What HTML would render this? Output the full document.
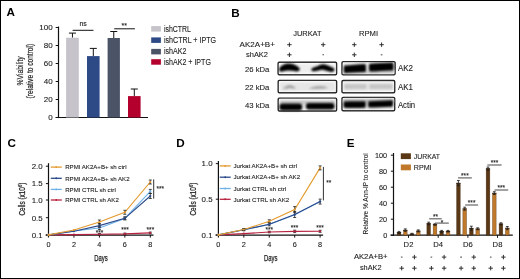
<!DOCTYPE html>
<html><head><meta charset="utf-8"><style>html,body{margin:0;padding:0;background:#fff;width:520px;height:279px;overflow:hidden}</style></head>
<body>
<svg width="520" height="279" viewBox="0 0 520 279" style="display:block;will-change:transform" font-family='"Liberation Sans", sans-serif'>
<defs><filter id="bl" x="-20%" y="-80%" width="140%" height="260%" color-interpolation-filters="sRGB"><feGaussianBlur stdDeviation="0.85"/></filter><filter id="bl2" x="-20%" y="-80%" width="140%" height="260%" color-interpolation-filters="sRGB"><feGaussianBlur stdDeviation="1.1"/></filter><filter id="bl3" x="-20%" y="-80%" width="140%" height="260%" color-interpolation-filters="sRGB"><feGaussianBlur stdDeviation="1.0"/></filter><filter id="bs" x="-10%" y="-30%" width="120%" height="160%" color-interpolation-filters="sRGB"><feGaussianBlur stdDeviation="0.9"/></filter></defs>
<rect width="520" height="279" fill="#fff"/>
<rect x="0.5" y="0.5" width="519" height="278" fill="none" stroke="#000" stroke-width="1"/>
<text x="6.6" y="16.3" font-size="11.7" text-anchor="start" font-weight="bold" fill="#000" >A</text>
<text x="231.3" y="16.9" font-size="11.7" text-anchor="start" font-weight="bold" fill="#000" >B</text>
<text x="7.4" y="147" font-size="11.7" text-anchor="start" font-weight="bold" fill="#000" >C</text>
<text x="176.2" y="147" font-size="11.7" text-anchor="start" font-weight="bold" fill="#000" >D</text>
<text x="346.7" y="147" font-size="11.7" text-anchor="start" font-weight="bold" fill="#000" >E</text>
<line x1="58.5" y1="26.5" x2="58.5" y2="118.1" stroke="#111" stroke-width="1.2"/>
<line x1="55.7" y1="117.5" x2="148" y2="117.5" stroke="#111" stroke-width="1.2"/>
<line x1="55.7" y1="117.5" x2="58.5" y2="117.5" stroke="#111" stroke-width="1"/>
<text x="52.6" y="120.35" font-size="8" text-anchor="end" font-weight="normal" fill="#222" stroke="#222" stroke-width="0.1" >0</text>
<line x1="55.7" y1="99.5" x2="58.5" y2="99.5" stroke="#111" stroke-width="1"/>
<text x="52.6" y="102.35" font-size="8" text-anchor="end" font-weight="normal" fill="#222" stroke="#222" stroke-width="0.1" >20</text>
<line x1="55.7" y1="81.5" x2="58.5" y2="81.5" stroke="#111" stroke-width="1"/>
<text x="52.6" y="84.35" font-size="8" text-anchor="end" font-weight="normal" fill="#222" stroke="#222" stroke-width="0.1" >40</text>
<line x1="55.7" y1="63.5" x2="58.5" y2="63.5" stroke="#111" stroke-width="1"/>
<text x="52.6" y="66.35" font-size="8" text-anchor="end" font-weight="normal" fill="#222" stroke="#222" stroke-width="0.1" >60</text>
<line x1="55.7" y1="45.5" x2="58.5" y2="45.5" stroke="#111" stroke-width="1"/>
<text x="52.6" y="48.35" font-size="8" text-anchor="end" font-weight="normal" fill="#222" stroke="#222" stroke-width="0.1" >80</text>
<line x1="55.7" y1="27.5" x2="58.5" y2="27.5" stroke="#111" stroke-width="1"/>
<text x="52.6" y="30.35" font-size="8" text-anchor="end" font-weight="normal" fill="#222" stroke="#222" stroke-width="0.1" >100</text>
<line x1="72.44999999999999" y1="33.1" x2="72.44999999999999" y2="37.7" stroke="#111" stroke-width="1"/>
<line x1="68.94999999999999" y1="33.1" x2="75.94999999999999" y2="33.1" stroke="#111" stroke-width="1"/>
<rect x="66.1" y="37.7" width="12.700000000000003" height="79.8" fill="#c6c4ca" />
<line x1="93.3" y1="48.4" x2="93.3" y2="56.1" stroke="#111" stroke-width="1"/>
<line x1="89.8" y1="48.4" x2="96.8" y2="48.4" stroke="#111" stroke-width="1"/>
<rect x="87.0" y="56.1" width="12.599999999999994" height="61.4" fill="#2d4a86" />
<line x1="113.75" y1="31.5" x2="113.75" y2="38.0" stroke="#111" stroke-width="1"/>
<line x1="110.25" y1="31.5" x2="117.25" y2="31.5" stroke="#111" stroke-width="1"/>
<rect x="107.6" y="38.0" width="12.300000000000011" height="79.5" fill="#4b5366" />
<line x1="134.3" y1="89.0" x2="134.3" y2="96.1" stroke="#111" stroke-width="1"/>
<line x1="130.8" y1="89.0" x2="137.8" y2="89.0" stroke="#111" stroke-width="1"/>
<rect x="128.0" y="96.1" width="12.599999999999994" height="21.400000000000006" fill="#b3002c" />
<line x1="72.6" y1="30.3" x2="93.5" y2="30.3" stroke="#111" stroke-width="1"/>
<text x="83.1" y="26.0" font-size="7" text-anchor="middle" font-weight="normal" fill="#222" stroke="#222" stroke-width="0.1" >ns</text>
<line x1="114.2" y1="28.8" x2="134.9" y2="28.8" stroke="#111" stroke-width="1"/>
<text x="124.3" y="28.1" font-size="7" text-anchor="middle" font-weight="normal" fill="#222" stroke="#222" stroke-width="0.1" >**</text>
<g transform="translate(23.1,70.9) rotate(-90)"><text x="0" y="0" font-size="9" text-anchor="middle" fill="#222" stroke="#222" stroke-width="0.2" textLength="29.2" lengthAdjust="spacingAndGlyphs">%Viability</text></g>
<g transform="translate(33.0,71.1) rotate(-90)"><text x="0" y="0" font-size="9" text-anchor="middle" fill="#222" stroke="#222" stroke-width="0.2" textLength="54.6" lengthAdjust="spacingAndGlyphs">(relative to control)</text></g>
<rect x="151.2" y="26.1" width="9.7" height="5.5" fill="#c6c4ca" />
<text x="163.9" y="31.6" font-size="8.4" text-anchor="start" font-weight="normal" fill="#222" stroke="#222" stroke-width="0.1" textLength="27" lengthAdjust="spacingAndGlyphs" >ishCTRL</text>
<rect x="151.2" y="37.4" width="9.7" height="5.5" fill="#2d4a86" />
<text x="163.9" y="42.9" font-size="8.4" text-anchor="start" font-weight="normal" fill="#222" stroke="#222" stroke-width="0.1" textLength="52.2" lengthAdjust="spacingAndGlyphs" >ishCTRL + IPTG</text>
<rect x="151.2" y="48.9" width="9.7" height="5.5" fill="#4b5366" />
<text x="163.9" y="54.4" font-size="8.4" text-anchor="start" font-weight="normal" fill="#222" stroke="#222" stroke-width="0.1" textLength="22.5" lengthAdjust="spacingAndGlyphs" >ishAK2</text>
<rect x="151.2" y="59.2" width="9.7" height="5.5" fill="#b3002c" />
<text x="163.9" y="64.7" font-size="8.4" text-anchor="start" font-weight="normal" fill="#222" stroke="#222" stroke-width="0.1" textLength="47" lengthAdjust="spacingAndGlyphs" >ishAK2 + IPTG</text>
<text x="307.4" y="35.7" font-size="7.8" text-anchor="middle" font-weight="normal" fill="#222" stroke="#222" stroke-width="0.1" textLength="28.4" lengthAdjust="spacingAndGlyphs" >JURKAT</text>
<text x="368.5" y="35.5" font-size="7.8" text-anchor="middle" font-weight="normal" fill="#222" stroke="#222" stroke-width="0.1" textLength="19.1" lengthAdjust="spacingAndGlyphs" >RPMI</text>
<text x="239.6" y="47.4" font-size="7.3" text-anchor="start" font-weight="normal" fill="#222" stroke="#222" stroke-width="0.1" textLength="35.3" lengthAdjust="spacingAndGlyphs" >AK2A+B+</text>
<text x="246" y="57.1" font-size="7.3" text-anchor="start" font-weight="normal" fill="#222" stroke="#222" stroke-width="0.1" textLength="22" lengthAdjust="spacingAndGlyphs" >shAK2</text>
<path d="M287.20,44.70H291.60M289.40,42.50V46.90" stroke="#303030" stroke-width="1.0" fill="none"/>
<path d="M321.00,44.70H325.40M323.20,42.50V46.90" stroke="#303030" stroke-width="1.0" fill="none"/>
<path d="M352.10,44.70H356.50M354.30,42.50V46.90" stroke="#303030" stroke-width="1.0" fill="none"/>
<path d="M379.40,44.70H383.80M381.60,42.50V46.90" stroke="#303030" stroke-width="1.0" fill="none"/>
<path d="M287.20,54.80H291.60M289.40,52.60V57.00" stroke="#303030" stroke-width="1.0" fill="none"/>
<path d="M322.40,54.80H324.00" stroke="#555" stroke-width="1.1" fill="none"/>
<path d="M352.10,54.80H356.50M354.30,52.60V57.00" stroke="#303030" stroke-width="1.0" fill="none"/>
<path d="M380.80,54.80H382.40" stroke="#555" stroke-width="1.1" fill="none"/>
<text x="245" y="71.9" font-size="8.0" text-anchor="start" font-weight="normal" fill="#222" stroke="#222" stroke-width="0.1" textLength="24.4" lengthAdjust="spacingAndGlyphs" >26 kDa</text>
<text x="245" y="89.5" font-size="8.0" text-anchor="start" font-weight="normal" fill="#222" stroke="#222" stroke-width="0.1" textLength="24.4" lengthAdjust="spacingAndGlyphs" >22 kDa</text>
<text x="245" y="107.5" font-size="8.0" text-anchor="start" font-weight="normal" fill="#222" stroke="#222" stroke-width="0.1" textLength="24.4" lengthAdjust="spacingAndGlyphs" >43 kDa</text>
<text x="397.9" y="71.2" font-size="8.4" text-anchor="start" font-weight="normal" fill="#222" stroke="#222" stroke-width="0.1" textLength="15.2" lengthAdjust="spacingAndGlyphs" >AK2</text>
<text x="397.9" y="89.5" font-size="8.4" text-anchor="start" font-weight="normal" fill="#222" stroke="#222" stroke-width="0.1" textLength="15.0" lengthAdjust="spacingAndGlyphs" >AK1</text>
<text x="397.9" y="107.6" font-size="8.4" text-anchor="start" font-weight="normal" fill="#222" stroke="#222" stroke-width="0.1" textLength="17.3" lengthAdjust="spacingAndGlyphs" >Actin</text>
<rect x="278.09999999999997" y="62.300000000000004" width="58.500000000000036" height="12.499999999999998" rx="1.2" fill="#fff" stroke="#1c1c1c" stroke-width="1.4"/>
<rect x="279.59999999999997" y="63.800000000000004" width="55.500000000000036" height="9.499999999999998" fill="#eeeeee" filter="url(#bs)"/>
<path d="M279.6,67.8 C281.5,65.3 284.8,63.6 288.5,63.5 C292.8,63.5 297,65.6 299.4,68.1 C300.3,69.5 299.4,71.4 297,71.4 C294,71.3 291,70.6 288,70.6 C285,70.6 283,71.7 281,71.7 C279,71.6 278.7,69.2 279.6,67.8 Z" fill="#000" filter="url(#bl)"/><path d="M311.8,68.3 C314.5,67 317,66.6 318.8,65.5 C320.6,64.4 322.8,64 325,64.4 C328,65.2 331.5,66.8 333.8,68.2 C335.2,69.4 334.3,71.9 331.8,71.9 C328.5,71.6 325.5,70.1 322.5,69.7 C320.3,69.5 318.3,70.7 316,71.1 C313.8,71.4 311.5,71.2 311.3,69.9 Z" fill="#000" filter="url(#bl)"/>
<rect x="342.0" y="61.6" width="53.1" height="13.200000000000001" rx="1.2" fill="#fff" stroke="#1c1c1c" stroke-width="1.4"/>
<rect x="343.5" y="63.1" width="50.1" height="10.200000000000001" fill="#e8e8e8" filter="url(#bs)"/>
<rect x="343" y="70.5" width="51" height="3.2" fill="#cfcfcf" filter="url(#bl2)"/><path d="M344.2,65.6 C350,65 358,64.4 365.4,64.0 C366.2,66.3 366.2,70 365.6,72.1 C358,72.4 350,72.7 344.4,72.9 C343.5,70.8 343.5,67.5 344.2,65.6 Z" fill="#000" filter="url(#bl3)"/><path d="M369.4,63.8 C377,63.2 386,62.6 393,62.5 C393.9,64.8 393.9,68.5 393.3,70.4 C386,70.8 377,71.2 369.5,71.6 C368.7,69.6 368.7,65.8 369.4,63.8 Z" fill="#000" filter="url(#bl3)"/>
<rect x="278.2" y="80.4" width="58.40000000000001" height="12.300000000000002" rx="1.2" fill="#fff" stroke="#1c1c1c" stroke-width="1.4"/>
<rect x="279.7" y="81.9" width="55.40000000000001" height="9.300000000000002" fill="#e6e6e6" filter="url(#bs)"/>
<path d="M283,88.7 C285,86.6 287.8,85.2 290,85.3 C292.2,85.4 294.5,86.8 296,88.5 C293.8,88.9 291.5,87.9 289.5,87.9 C287.5,87.9 285.3,89.1 283,88.7 Z" fill="#9c9c9c" filter="url(#bl)"/><path d="M308.5,88.4 C313,86.6 318,86.1 322,86.3 C324.8,86.5 327,87.2 328,88.1 C323,88.8 316,89 308.5,88.4 Z" fill="#9c9c9c" filter="url(#bl)"/>
<rect x="342.0" y="80.5" width="52.69999999999997" height="12.300000000000002" rx="1.2" fill="#fff" stroke="#1c1c1c" stroke-width="1.4"/>
<rect x="343.5" y="82.0" width="49.69999999999997" height="9.300000000000002" fill="#ebebeb" filter="url(#bs)"/>
<rect x="344.3" y="84" width="22.3" height="5.2" fill="#c6c6c6" filter="url(#bl2)"/><rect x="369.3" y="84" width="23.4" height="5.2" fill="#c6c6c6" filter="url(#bl2)"/>
<rect x="278.2" y="98.10000000000001" width="58.40000000000001" height="12.899999999999997" rx="1.2" fill="#fff" stroke="#1c1c1c" stroke-width="1.4"/>
<rect x="279.7" y="99.60000000000001" width="55.40000000000001" height="9.899999999999997" fill="#eaeaea" filter="url(#bs)"/>
<rect x="280" y="100.8" width="55" height="3.6" fill="#c4c4c4" filter="url(#bl2)"/><rect x="279.4" y="103.6" width="22.8" height="7.0" rx="3" fill="#000" filter="url(#bl)"/><rect x="305.9" y="102.9" width="28.6" height="6.7" rx="3" fill="#000" filter="url(#bl)"/>
<rect x="342.0" y="97.4" width="52.69999999999997" height="13.399999999999997" rx="1.2" fill="#fff" stroke="#1c1c1c" stroke-width="1.4"/>
<rect x="343.5" y="98.9" width="49.69999999999997" height="10.399999999999997" fill="#e2e2e2" filter="url(#bs)"/>
<rect x="343" y="99.3" width="51" height="3.2" fill="#bdbdbd" filter="url(#bl2)"/><path d="M344,101.5 C351,101.1 358,101.1 365.3,101.3 C366,103.3 366,105.7 365.3,107.7 C358,108.1 351,108.1 344,107.8 C343.3,105.7 343.3,103.3 344,101.5 Z" fill="#000" filter="url(#bl)"/><path d="M368.6,101.3 C376,100.9 384,100.4 392.5,100.2 C393.2,102.2 393.2,104.8 392.5,106.7 C384,107.1 376,107.3 368.6,107.5 C367.9,105.6 367.9,103.3 368.6,101.3 Z" fill="#000" filter="url(#bl)"/>
<line x1="48.5" y1="163.2" x2="48.5" y2="237.5" stroke="#111" stroke-width="1.2"/>
<line x1="45.7" y1="235.2" x2="153.5" y2="235.2" stroke="#111" stroke-width="1.3"/>
<line x1="45.9" y1="166.2" x2="48.5" y2="166.2" stroke="#111" stroke-width="1"/>
<text x="42.7" y="169.0" font-size="7.9" text-anchor="end" font-weight="normal" fill="#222" stroke="#222" stroke-width="0.1" >2.0</text>
<line x1="45.9" y1="183.6" x2="48.5" y2="183.6" stroke="#111" stroke-width="1"/>
<text x="42.7" y="186.4" font-size="7.9" text-anchor="end" font-weight="normal" fill="#222" stroke="#222" stroke-width="0.1" >1.5</text>
<line x1="45.9" y1="200.0" x2="48.5" y2="200.0" stroke="#111" stroke-width="1"/>
<text x="42.7" y="202.8" font-size="7.9" text-anchor="end" font-weight="normal" fill="#222" stroke="#222" stroke-width="0.1" >1.0</text>
<line x1="45.9" y1="217.7" x2="48.5" y2="217.7" stroke="#111" stroke-width="1"/>
<text x="42.7" y="220.5" font-size="7.9" text-anchor="end" font-weight="normal" fill="#222" stroke="#222" stroke-width="0.1" >0.5</text>
<line x1="45.9" y1="234.9" x2="48.5" y2="234.9" stroke="#111" stroke-width="1"/>
<text x="42.7" y="237.70000000000002" font-size="7.9" text-anchor="end" font-weight="normal" fill="#222" stroke="#222" stroke-width="0.1" >0.1</text>
<text x="48.5" y="247.2" font-size="7.3" text-anchor="middle" font-weight="normal" fill="#222" stroke="#222" stroke-width="0.1" >0</text>
<line x1="73.95" y1="235" x2="73.95" y2="237.6" stroke="#111" stroke-width="1"/>
<text x="73.95" y="247.2" font-size="7.3" text-anchor="middle" font-weight="normal" fill="#222" stroke="#222" stroke-width="0.1" >2</text>
<line x1="99.4" y1="235" x2="99.4" y2="237.6" stroke="#111" stroke-width="1"/>
<text x="99.4" y="247.2" font-size="7.3" text-anchor="middle" font-weight="normal" fill="#222" stroke="#222" stroke-width="0.1" >4</text>
<line x1="124.85" y1="235" x2="124.85" y2="237.6" stroke="#111" stroke-width="1"/>
<text x="124.85" y="247.2" font-size="7.3" text-anchor="middle" font-weight="normal" fill="#222" stroke="#222" stroke-width="0.1" >6</text>
<line x1="150.3" y1="235" x2="150.3" y2="237.6" stroke="#111" stroke-width="1"/>
<text x="150.3" y="247.2" font-size="7.3" text-anchor="middle" font-weight="normal" fill="#222" stroke="#222" stroke-width="0.1" >8</text>
<text x="100.9" y="260.5" font-size="9" text-anchor="middle" fill="#222" stroke="#222" stroke-width="0.25" textLength="13.5" lengthAdjust="spacingAndGlyphs">Days</text>
<g transform="translate(25.3,199.1) rotate(-90)"><text x="0" y="0" font-size="9.2" text-anchor="middle" fill="#222" stroke="#222" stroke-width="0.25" textLength="32.8" lengthAdjust="spacingAndGlyphs">Cells (x10<tspan font-size="5.8" dy="-3.3">6</tspan><tspan dy="3.3">)</tspan></text></g>
<line x1="50.8" y1="167.1" x2="61.8" y2="167.1" stroke="#e39a2e" stroke-width="1.3"/>
<circle cx="56.3" cy="167.1" r="0.95" fill="#e39a2e"/>
<text x="65.2" y="169.29999999999998" font-size="6.1" text-anchor="start" font-weight="normal" fill="#222" stroke="#222" stroke-width="0.1" >RPMI AK2A+B+ sh ctrl</text>
<line x1="50.8" y1="178.3" x2="61.8" y2="178.3" stroke="#2b4a8c" stroke-width="1.3"/>
<circle cx="56.3" cy="178.3" r="0.95" fill="#2b4a8c"/>
<text x="65.2" y="180.5" font-size="6.1" text-anchor="start" font-weight="normal" fill="#222" stroke="#222" stroke-width="0.1" >RPMI AK2A+B+ sh AK2</text>
<line x1="50.8" y1="189.4" x2="61.8" y2="189.4" stroke="#6fb1e6" stroke-width="1.3"/>
<circle cx="56.3" cy="189.4" r="0.95" fill="#6fb1e6"/>
<text x="65.2" y="191.6" font-size="6.1" text-anchor="start" font-weight="normal" fill="#222" stroke="#222" stroke-width="0.1" >RPMI CTRL sh ctrl</text>
<line x1="50.8" y1="200.0" x2="61.8" y2="200.0" stroke="#b82340" stroke-width="1.3"/>
<circle cx="56.3" cy="200.0" r="0.95" fill="#b82340"/>
<text x="65.2" y="202.2" font-size="6.1" text-anchor="start" font-weight="normal" fill="#222" stroke="#222" stroke-width="0.1" >RPMI CTRL sh AK2</text>
<path d="M48.5,234.9 L74.0,234.6 L99.4,234.3 L124.8,233.9 L150.3,232.9" fill="none" stroke="#b82340" stroke-width="1.1"/>
<circle cx="48.5" cy="234.9" r="1.1" fill="#b82340"/>
<circle cx="73.95" cy="234.6" r="1.1" fill="#b82340"/>
<line x1="99.4" y1="233.5" x2="99.4" y2="235.10000000000002" stroke="#222" stroke-width="0.8"/>
<line x1="97.9" y1="233.5" x2="100.9" y2="233.5" stroke="#222" stroke-width="0.8"/>
<line x1="97.9" y1="235.10000000000002" x2="100.9" y2="235.10000000000002" stroke="#222" stroke-width="0.8"/>
<circle cx="99.4" cy="234.3" r="1.1" fill="#b82340"/>
<line x1="124.85" y1="233.1" x2="124.85" y2="234.70000000000002" stroke="#222" stroke-width="0.8"/>
<line x1="123.35" y1="233.1" x2="126.35" y2="233.1" stroke="#222" stroke-width="0.8"/>
<line x1="123.35" y1="234.70000000000002" x2="126.35" y2="234.70000000000002" stroke="#222" stroke-width="0.8"/>
<circle cx="124.85" cy="233.9" r="1.1" fill="#b82340"/>
<line x1="150.3" y1="232.1" x2="150.3" y2="233.70000000000002" stroke="#222" stroke-width="0.8"/>
<line x1="148.8" y1="232.1" x2="151.8" y2="232.1" stroke="#222" stroke-width="0.8"/>
<line x1="148.8" y1="233.70000000000002" x2="151.8" y2="233.70000000000002" stroke="#222" stroke-width="0.8"/>
<circle cx="150.3" cy="232.9" r="1.1" fill="#b82340"/>
<path d="M48.5,234.9 L74.0,231.0 L99.4,228.0 L124.8,218.5 L150.3,191.4" fill="none" stroke="#6fb1e6" stroke-width="1.1"/>
<circle cx="48.5" cy="234.9" r="1.1" fill="#6fb1e6"/>
<circle cx="73.95" cy="231.0" r="1.1" fill="#6fb1e6"/>
<line x1="99.4" y1="226.5" x2="99.4" y2="229.5" stroke="#222" stroke-width="0.8"/>
<line x1="97.9" y1="226.5" x2="100.9" y2="226.5" stroke="#222" stroke-width="0.8"/>
<line x1="97.9" y1="229.5" x2="100.9" y2="229.5" stroke="#222" stroke-width="0.8"/>
<circle cx="99.4" cy="228.0" r="1.1" fill="#6fb1e6"/>
<line x1="124.85" y1="217.3" x2="124.85" y2="219.7" stroke="#222" stroke-width="0.8"/>
<line x1="123.35" y1="217.3" x2="126.35" y2="217.3" stroke="#222" stroke-width="0.8"/>
<line x1="123.35" y1="219.7" x2="126.35" y2="219.7" stroke="#222" stroke-width="0.8"/>
<circle cx="124.85" cy="218.5" r="1.1" fill="#6fb1e6"/>
<line x1="150.3" y1="189.4" x2="150.3" y2="193.4" stroke="#222" stroke-width="0.8"/>
<line x1="148.8" y1="189.4" x2="151.8" y2="189.4" stroke="#222" stroke-width="0.8"/>
<line x1="148.8" y1="193.4" x2="151.8" y2="193.4" stroke="#222" stroke-width="0.8"/>
<circle cx="150.3" cy="191.4" r="1.1" fill="#6fb1e6"/>
<path d="M48.5,234.9 L74.0,231.2 L99.4,225.6 L124.8,218.3 L150.3,196.0" fill="none" stroke="#2b4a8c" stroke-width="1.1"/>
<circle cx="48.5" cy="234.9" r="1.1" fill="#2b4a8c"/>
<circle cx="73.95" cy="231.2" r="1.1" fill="#2b4a8c"/>
<line x1="99.4" y1="223.6" x2="99.4" y2="227.6" stroke="#222" stroke-width="0.8"/>
<line x1="97.9" y1="223.6" x2="100.9" y2="223.6" stroke="#222" stroke-width="0.8"/>
<line x1="97.9" y1="227.6" x2="100.9" y2="227.6" stroke="#222" stroke-width="0.8"/>
<circle cx="99.4" cy="225.6" r="1.1" fill="#2b4a8c"/>
<line x1="124.85" y1="216.8" x2="124.85" y2="219.8" stroke="#222" stroke-width="0.8"/>
<line x1="123.35" y1="216.8" x2="126.35" y2="216.8" stroke="#222" stroke-width="0.8"/>
<line x1="123.35" y1="219.8" x2="126.35" y2="219.8" stroke="#222" stroke-width="0.8"/>
<circle cx="124.85" cy="218.3" r="1.1" fill="#2b4a8c"/>
<line x1="150.3" y1="193.5" x2="150.3" y2="198.5" stroke="#222" stroke-width="0.8"/>
<line x1="148.8" y1="193.5" x2="151.8" y2="193.5" stroke="#222" stroke-width="0.8"/>
<line x1="148.8" y1="198.5" x2="151.8" y2="198.5" stroke="#222" stroke-width="0.8"/>
<circle cx="150.3" cy="196.0" r="1.1" fill="#2b4a8c"/>
<path d="M48.5,234.9 L74.0,230.0 L99.4,222.0 L124.8,212.3 L150.3,182.0" fill="none" stroke="#e39a2e" stroke-width="1.1"/>
<circle cx="48.5" cy="234.9" r="1.1" fill="#e39a2e"/>
<circle cx="73.95" cy="230.0" r="1.1" fill="#e39a2e"/>
<line x1="99.4" y1="220.0" x2="99.4" y2="224.0" stroke="#222" stroke-width="0.8"/>
<line x1="97.9" y1="220.0" x2="100.9" y2="220.0" stroke="#222" stroke-width="0.8"/>
<line x1="97.9" y1="224.0" x2="100.9" y2="224.0" stroke="#222" stroke-width="0.8"/>
<circle cx="99.4" cy="222.0" r="1.1" fill="#e39a2e"/>
<line x1="124.85" y1="210.3" x2="124.85" y2="214.3" stroke="#222" stroke-width="0.8"/>
<line x1="123.35" y1="210.3" x2="126.35" y2="210.3" stroke="#222" stroke-width="0.8"/>
<line x1="123.35" y1="214.3" x2="126.35" y2="214.3" stroke="#222" stroke-width="0.8"/>
<circle cx="124.85" cy="212.3" r="1.1" fill="#e39a2e"/>
<line x1="150.3" y1="180.0" x2="150.3" y2="184.0" stroke="#222" stroke-width="0.8"/>
<line x1="148.8" y1="180.0" x2="151.8" y2="180.0" stroke="#222" stroke-width="0.8"/>
<line x1="148.8" y1="184.0" x2="151.8" y2="184.0" stroke="#222" stroke-width="0.8"/>
<circle cx="150.3" cy="182.0" r="1.1" fill="#e39a2e"/>
<text x="99.6" y="235.0" font-size="6.5" text-anchor="middle" font-weight="normal" fill="#222" stroke="#222" stroke-width="0.1" >***</text>
<text x="125.1" y="231.6" font-size="6.5" text-anchor="middle" font-weight="normal" fill="#222" stroke="#222" stroke-width="0.1" >***</text>
<text x="150.4" y="231.6" font-size="6.5" text-anchor="middle" font-weight="normal" fill="#222" stroke="#222" stroke-width="0.1" >***</text>
<line x1="153.7" y1="179.4" x2="153.7" y2="198.7" stroke="#333" stroke-width="1"/>
<text x="156.5" y="190.65" font-size="6.5" text-anchor="start" font-weight="normal" fill="#222" stroke="#222" stroke-width="0.1" >***</text>
<line x1="218.4" y1="161.1" x2="218.4" y2="237.5" stroke="#111" stroke-width="1.2"/>
<line x1="215.6" y1="235.2" x2="323.1" y2="235.2" stroke="#111" stroke-width="1.3"/>
<line x1="215.8" y1="163.6" x2="218.4" y2="163.6" stroke="#111" stroke-width="1"/>
<text x="212.6" y="166.4" font-size="7.9" text-anchor="end" font-weight="normal" fill="#222" stroke="#222" stroke-width="0.1" >1.0</text>
<line x1="215.8" y1="199.2" x2="218.4" y2="199.2" stroke="#111" stroke-width="1"/>
<text x="212.6" y="202.0" font-size="7.9" text-anchor="end" font-weight="normal" fill="#222" stroke="#222" stroke-width="0.1" >0.5</text>
<line x1="215.8" y1="234.9" x2="218.4" y2="234.9" stroke="#111" stroke-width="1"/>
<text x="212.6" y="237.70000000000002" font-size="7.9" text-anchor="end" font-weight="normal" fill="#222" stroke="#222" stroke-width="0.1" >0.1</text>
<text x="218.4" y="247.2" font-size="7.3" text-anchor="middle" font-weight="normal" fill="#222" stroke="#222" stroke-width="0.1" >0</text>
<line x1="243.83" y1="235" x2="243.83" y2="237.6" stroke="#111" stroke-width="1"/>
<text x="243.83" y="247.2" font-size="7.3" text-anchor="middle" font-weight="normal" fill="#222" stroke="#222" stroke-width="0.1" >2</text>
<line x1="269.26" y1="235" x2="269.26" y2="237.6" stroke="#111" stroke-width="1"/>
<text x="269.26" y="247.2" font-size="7.3" text-anchor="middle" font-weight="normal" fill="#222" stroke="#222" stroke-width="0.1" >4</text>
<line x1="294.69" y1="235" x2="294.69" y2="237.6" stroke="#111" stroke-width="1"/>
<text x="294.69" y="247.2" font-size="7.3" text-anchor="middle" font-weight="normal" fill="#222" stroke="#222" stroke-width="0.1" >6</text>
<line x1="320.12" y1="235" x2="320.12" y2="237.6" stroke="#111" stroke-width="1"/>
<text x="320.12" y="247.2" font-size="7.3" text-anchor="middle" font-weight="normal" fill="#222" stroke="#222" stroke-width="0.1" >8</text>
<text x="270.8" y="260.5" font-size="9" text-anchor="middle" fill="#222" stroke="#222" stroke-width="0.25" textLength="13.5" lengthAdjust="spacingAndGlyphs">Days</text>
<g transform="translate(195.9,199.1) rotate(-90)"><text x="0" y="0" font-size="9.2" text-anchor="middle" fill="#222" stroke="#222" stroke-width="0.25" textLength="32.8" lengthAdjust="spacingAndGlyphs">Cells (x10<tspan font-size="5.8" dy="-3.3">6</tspan><tspan dy="3.3">)</tspan></text></g>
<line x1="219.7" y1="165.9" x2="230.7" y2="165.9" stroke="#e39a2e" stroke-width="1.3"/>
<circle cx="225.2" cy="165.9" r="0.95" fill="#e39a2e"/>
<text x="233.4" y="168.1" font-size="6.2" text-anchor="start" font-weight="normal" fill="#222" stroke="#222" stroke-width="0.1" >Jurkat AK2A+B+ sh ctrl</text>
<line x1="219.7" y1="177.2" x2="230.7" y2="177.2" stroke="#2b4a8c" stroke-width="1.3"/>
<circle cx="225.2" cy="177.2" r="0.95" fill="#2b4a8c"/>
<text x="233.4" y="179.39999999999998" font-size="6.2" text-anchor="start" font-weight="normal" fill="#222" stroke="#222" stroke-width="0.1" >Jurkat AK2A+B+ sh AK2</text>
<line x1="219.7" y1="188.5" x2="230.7" y2="188.5" stroke="#6fb1e6" stroke-width="1.3"/>
<circle cx="225.2" cy="188.5" r="0.95" fill="#6fb1e6"/>
<text x="233.4" y="190.7" font-size="6.2" text-anchor="start" font-weight="normal" fill="#222" stroke="#222" stroke-width="0.1" >Jurkat CTRL sh ctrl</text>
<line x1="219.7" y1="199.3" x2="230.7" y2="199.3" stroke="#b82340" stroke-width="1.3"/>
<circle cx="225.2" cy="199.3" r="0.95" fill="#b82340"/>
<text x="233.4" y="201.5" font-size="6.2" text-anchor="start" font-weight="normal" fill="#222" stroke="#222" stroke-width="0.1" >Jurkat CTRL sh AK2</text>
<path d="M218.4,234.9 L243.8,233.6 L269.3,232.0 L294.7,231.4 L320.1,231.3" fill="none" stroke="#b82340" stroke-width="1.1"/>
<circle cx="218.4" cy="234.9" r="1.1" fill="#b82340"/>
<circle cx="243.83" cy="233.6" r="1.1" fill="#b82340"/>
<line x1="269.26" y1="231.2" x2="269.26" y2="232.8" stroke="#222" stroke-width="0.8"/>
<line x1="267.76" y1="231.2" x2="270.76" y2="231.2" stroke="#222" stroke-width="0.8"/>
<line x1="267.76" y1="232.8" x2="270.76" y2="232.8" stroke="#222" stroke-width="0.8"/>
<circle cx="269.26" cy="232.0" r="1.1" fill="#b82340"/>
<line x1="294.69" y1="230.20000000000002" x2="294.69" y2="232.6" stroke="#222" stroke-width="0.8"/>
<line x1="293.19" y1="230.20000000000002" x2="296.19" y2="230.20000000000002" stroke="#222" stroke-width="0.8"/>
<line x1="293.19" y1="232.6" x2="296.19" y2="232.6" stroke="#222" stroke-width="0.8"/>
<circle cx="294.69" cy="231.4" r="1.1" fill="#b82340"/>
<line x1="320.12" y1="230.3" x2="320.12" y2="232.3" stroke="#222" stroke-width="0.8"/>
<line x1="318.62" y1="230.3" x2="321.62" y2="230.3" stroke="#222" stroke-width="0.8"/>
<line x1="318.62" y1="232.3" x2="321.62" y2="232.3" stroke="#222" stroke-width="0.8"/>
<circle cx="320.12" cy="231.3" r="1.1" fill="#b82340"/>
<path d="M218.4,234.9 L243.8,229.8 L269.3,224.5 L294.7,214.8 L320.1,201.6" fill="none" stroke="#6fb1e6" stroke-width="1.1"/>
<circle cx="218.4" cy="234.9" r="1.1" fill="#6fb1e6"/>
<circle cx="243.83" cy="229.8" r="1.1" fill="#6fb1e6"/>
<circle cx="269.26" cy="224.5" r="1.1" fill="#6fb1e6"/>
<circle cx="294.69" cy="214.8" r="1.1" fill="#6fb1e6"/>
<circle cx="320.12" cy="201.6" r="1.1" fill="#6fb1e6"/>
<path d="M218.4,234.9 L243.8,229.8 L269.3,224.3 L294.7,214.5 L320.1,201.6" fill="none" stroke="#2b4a8c" stroke-width="1.1"/>
<circle cx="218.4" cy="234.9" r="1.1" fill="#2b4a8c"/>
<line x1="243.83" y1="228.8" x2="243.83" y2="230.8" stroke="#222" stroke-width="0.8"/>
<line x1="242.33" y1="228.8" x2="245.33" y2="228.8" stroke="#222" stroke-width="0.8"/>
<line x1="242.33" y1="230.8" x2="245.33" y2="230.8" stroke="#222" stroke-width="0.8"/>
<circle cx="243.83" cy="229.8" r="1.1" fill="#2b4a8c"/>
<line x1="269.26" y1="222.8" x2="269.26" y2="225.8" stroke="#222" stroke-width="0.8"/>
<line x1="267.76" y1="222.8" x2="270.76" y2="222.8" stroke="#222" stroke-width="0.8"/>
<line x1="267.76" y1="225.8" x2="270.76" y2="225.8" stroke="#222" stroke-width="0.8"/>
<circle cx="269.26" cy="224.3" r="1.1" fill="#2b4a8c"/>
<line x1="294.69" y1="211.5" x2="294.69" y2="217.5" stroke="#222" stroke-width="0.8"/>
<line x1="293.19" y1="211.5" x2="296.19" y2="211.5" stroke="#222" stroke-width="0.8"/>
<line x1="293.19" y1="217.5" x2="296.19" y2="217.5" stroke="#222" stroke-width="0.8"/>
<circle cx="294.69" cy="214.5" r="1.1" fill="#2b4a8c"/>
<line x1="320.12" y1="199.1" x2="320.12" y2="204.1" stroke="#222" stroke-width="0.8"/>
<line x1="318.62" y1="199.1" x2="321.62" y2="199.1" stroke="#222" stroke-width="0.8"/>
<line x1="318.62" y1="204.1" x2="321.62" y2="204.1" stroke="#222" stroke-width="0.8"/>
<circle cx="320.12" cy="201.6" r="1.1" fill="#2b4a8c"/>
<path d="M218.4,234.9 L243.8,229.5 L269.3,221.3 L294.7,209.6 L320.1,167.9" fill="none" stroke="#e39a2e" stroke-width="1.1"/>
<circle cx="218.4" cy="234.9" r="1.1" fill="#e39a2e"/>
<line x1="243.83" y1="228.5" x2="243.83" y2="230.5" stroke="#222" stroke-width="0.8"/>
<line x1="242.33" y1="228.5" x2="245.33" y2="228.5" stroke="#222" stroke-width="0.8"/>
<line x1="242.33" y1="230.5" x2="245.33" y2="230.5" stroke="#222" stroke-width="0.8"/>
<circle cx="243.83" cy="229.5" r="1.1" fill="#e39a2e"/>
<line x1="269.26" y1="219.8" x2="269.26" y2="222.8" stroke="#222" stroke-width="0.8"/>
<line x1="267.76" y1="219.8" x2="270.76" y2="219.8" stroke="#222" stroke-width="0.8"/>
<line x1="267.76" y1="222.8" x2="270.76" y2="222.8" stroke="#222" stroke-width="0.8"/>
<circle cx="269.26" cy="221.3" r="1.1" fill="#e39a2e"/>
<line x1="294.69" y1="206.6" x2="294.69" y2="212.6" stroke="#222" stroke-width="0.8"/>
<line x1="293.19" y1="206.6" x2="296.19" y2="206.6" stroke="#222" stroke-width="0.8"/>
<line x1="293.19" y1="212.6" x2="296.19" y2="212.6" stroke="#222" stroke-width="0.8"/>
<circle cx="294.69" cy="209.6" r="1.1" fill="#e39a2e"/>
<line x1="320.12" y1="165.9" x2="320.12" y2="169.9" stroke="#222" stroke-width="0.8"/>
<line x1="318.62" y1="165.9" x2="321.62" y2="165.9" stroke="#222" stroke-width="0.8"/>
<line x1="318.62" y1="169.9" x2="321.62" y2="169.9" stroke="#222" stroke-width="0.8"/>
<circle cx="320.12" cy="167.9" r="1.1" fill="#e39a2e"/>
<text x="269.2" y="232.4" font-size="6.5" text-anchor="middle" font-weight="normal" fill="#222" stroke="#222" stroke-width="0.1" >***</text>
<text x="294.6" y="229.9" font-size="6.5" text-anchor="middle" font-weight="normal" fill="#222" stroke="#222" stroke-width="0.1" >***</text>
<text x="320.1" y="230.0" font-size="6.5" text-anchor="middle" font-weight="normal" fill="#222" stroke="#222" stroke-width="0.1" >***</text>
<line x1="323.4" y1="166.9" x2="323.4" y2="200.4" stroke="#333" stroke-width="1"/>
<text x="326.2" y="185.25" font-size="6.5" text-anchor="start" font-weight="normal" fill="#222" stroke="#222" stroke-width="0.1" >**</text>
<line x1="393.5" y1="153" x2="393.5" y2="235.79999999999998" stroke="#111" stroke-width="1.2"/>
<line x1="390.5" y1="235.2" x2="512.8" y2="235.2" stroke="#111" stroke-width="1.3"/>
<line x1="390.9" y1="235.2" x2="393.5" y2="235.2" stroke="#111" stroke-width="1"/>
<text x="387.2" y="237.7" font-size="7.3" text-anchor="end" font-weight="normal" fill="#222" stroke="#222" stroke-width="0.1" >0</text>
<line x1="390.9" y1="219.2" x2="393.5" y2="219.2" stroke="#111" stroke-width="1"/>
<text x="387.2" y="221.7" font-size="7.3" text-anchor="end" font-weight="normal" fill="#222" stroke="#222" stroke-width="0.1" >20</text>
<line x1="390.9" y1="203.2" x2="393.5" y2="203.2" stroke="#111" stroke-width="1"/>
<text x="387.2" y="205.7" font-size="7.3" text-anchor="end" font-weight="normal" fill="#222" stroke="#222" stroke-width="0.1" >40</text>
<line x1="390.9" y1="187.2" x2="393.5" y2="187.2" stroke="#111" stroke-width="1"/>
<text x="387.2" y="189.7" font-size="7.3" text-anchor="end" font-weight="normal" fill="#222" stroke="#222" stroke-width="0.1" >60</text>
<line x1="390.9" y1="171.2" x2="393.5" y2="171.2" stroke="#111" stroke-width="1"/>
<text x="387.2" y="173.7" font-size="7.3" text-anchor="end" font-weight="normal" fill="#222" stroke="#222" stroke-width="0.1" >80</text>
<line x1="390.9" y1="155.2" x2="393.5" y2="155.2" stroke="#111" stroke-width="1"/>
<text x="387.2" y="157.7" font-size="7.3" text-anchor="end" font-weight="normal" fill="#222" stroke="#222" stroke-width="0.1" >100</text>
<rect x="397.15" y="232.65" width="3.7" height="2.549999999999983" fill="#5a3816" stroke="#3a2410" stroke-width="0.5" stroke-opacity="0.6"/>
<line x1="399.0" y1="231.4" x2="399.0" y2="233.4" stroke="#1a1a1a" stroke-width="0.8"/>
<line x1="397.6" y1="231.4" x2="400.4" y2="231.4" stroke="#1a1a1a" stroke-width="0.8"/>
<line x1="397.6" y1="233.4" x2="400.4" y2="233.4" stroke="#1a1a1a" stroke-width="0.8"/>
<rect x="396.9" y="232.1" width="4.2" height="0.9" fill="#2a1a0a"/>
<rect x="403.45" y="230.35" width="3.7" height="4.849999999999994" fill="#c0782a" stroke="#3a2410" stroke-width="0.5" stroke-opacity="0.6"/>
<line x1="405.3" y1="228.9" x2="405.3" y2="231.29999999999998" stroke="#1a1a1a" stroke-width="0.8"/>
<line x1="403.90000000000003" y1="228.9" x2="406.7" y2="228.9" stroke="#1a1a1a" stroke-width="0.8"/>
<line x1="403.90000000000003" y1="231.29999999999998" x2="406.7" y2="231.29999999999998" stroke="#1a1a1a" stroke-width="0.8"/>
<rect x="403.2" y="229.79999999999998" width="4.2" height="0.9" fill="#2a1a0a"/>
<rect x="410.09999999999997" y="234.15" width="3.7" height="1.049999999999983" fill="#5a3816" stroke="#3a2410" stroke-width="0.5" stroke-opacity="0.6"/>
<line x1="411.95" y1="233.3" x2="411.95" y2="234.5" stroke="#1a1a1a" stroke-width="0.8"/>
<line x1="410.55" y1="233.3" x2="413.34999999999997" y2="233.3" stroke="#1a1a1a" stroke-width="0.8"/>
<line x1="410.55" y1="234.5" x2="413.34999999999997" y2="234.5" stroke="#1a1a1a" stroke-width="0.8"/>
<rect x="409.84999999999997" y="233.6" width="4.2" height="0.9" fill="#2a1a0a"/>
<rect x="416.45" y="231.15" width="3.7" height="4.049999999999983" fill="#c0782a" stroke="#3a2410" stroke-width="0.5" stroke-opacity="0.6"/>
<line x1="418.3" y1="229.9" x2="418.3" y2="231.9" stroke="#1a1a1a" stroke-width="0.8"/>
<line x1="416.90000000000003" y1="229.9" x2="419.7" y2="229.9" stroke="#1a1a1a" stroke-width="0.8"/>
<line x1="416.90000000000003" y1="231.9" x2="419.7" y2="231.9" stroke="#1a1a1a" stroke-width="0.8"/>
<rect x="416.2" y="230.6" width="4.2" height="0.9" fill="#2a1a0a"/>
<line x1="408.5" y1="235.2" x2="408.5" y2="237.79999999999998" stroke="#111" stroke-width="1"/>
<text x="408.5" y="247.4" font-size="7.3" text-anchor="middle" font-weight="normal" fill="#222" stroke="#222" stroke-width="0.1" textLength="9.8" lengthAdjust="spacingAndGlyphs" >D2</text>
<rect x="426.85" y="223.75" width="3.7" height="11.449999999999989" fill="#5a3816" stroke="#3a2410" stroke-width="0.5" stroke-opacity="0.6"/>
<line x1="428.70000000000005" y1="222.2" x2="428.70000000000005" y2="224.8" stroke="#1a1a1a" stroke-width="0.8"/>
<line x1="427.30000000000007" y1="222.2" x2="430.1" y2="222.2" stroke="#1a1a1a" stroke-width="0.8"/>
<line x1="427.30000000000007" y1="224.8" x2="430.1" y2="224.8" stroke="#1a1a1a" stroke-width="0.8"/>
<rect x="426.6" y="223.2" width="4.2" height="0.9" fill="#2a1a0a"/>
<rect x="433.15000000000003" y="224.75" width="3.7" height="10.449999999999989" fill="#c0782a" stroke="#3a2410" stroke-width="0.5" stroke-opacity="0.6"/>
<line x1="435.00000000000006" y1="223.7" x2="435.00000000000006" y2="225.3" stroke="#1a1a1a" stroke-width="0.8"/>
<line x1="433.6000000000001" y1="223.7" x2="436.40000000000003" y2="223.7" stroke="#1a1a1a" stroke-width="0.8"/>
<line x1="433.6000000000001" y1="225.3" x2="436.40000000000003" y2="225.3" stroke="#1a1a1a" stroke-width="0.8"/>
<rect x="432.90000000000003" y="224.2" width="4.2" height="0.9" fill="#2a1a0a"/>
<rect x="439.8" y="231.65" width="3.7" height="3.549999999999983" fill="#5a3816" stroke="#3a2410" stroke-width="0.5" stroke-opacity="0.6"/>
<line x1="441.65000000000003" y1="230.4" x2="441.65000000000003" y2="232.4" stroke="#1a1a1a" stroke-width="0.8"/>
<line x1="440.25000000000006" y1="230.4" x2="443.05" y2="230.4" stroke="#1a1a1a" stroke-width="0.8"/>
<line x1="440.25000000000006" y1="232.4" x2="443.05" y2="232.4" stroke="#1a1a1a" stroke-width="0.8"/>
<rect x="439.55" y="231.1" width="4.2" height="0.9" fill="#2a1a0a"/>
<rect x="446.15000000000003" y="231.45" width="3.7" height="3.75" fill="#c0782a" stroke="#3a2410" stroke-width="0.5" stroke-opacity="0.6"/>
<line x1="448.00000000000006" y1="230.39999999999998" x2="448.00000000000006" y2="232.0" stroke="#1a1a1a" stroke-width="0.8"/>
<line x1="446.6000000000001" y1="230.39999999999998" x2="449.40000000000003" y2="230.39999999999998" stroke="#1a1a1a" stroke-width="0.8"/>
<line x1="446.6000000000001" y1="232.0" x2="449.40000000000003" y2="232.0" stroke="#1a1a1a" stroke-width="0.8"/>
<rect x="445.90000000000003" y="230.89999999999998" width="4.2" height="0.9" fill="#2a1a0a"/>
<line x1="438.20000000000005" y1="235.2" x2="438.20000000000005" y2="237.79999999999998" stroke="#111" stroke-width="1"/>
<text x="438.20000000000005" y="247.4" font-size="7.3" text-anchor="middle" font-weight="normal" fill="#222" stroke="#222" stroke-width="0.1" textLength="9.8" lengthAdjust="spacingAndGlyphs" >D4</text>
<rect x="456.55" y="183.35" width="3.7" height="51.849999999999994" fill="#5a3816" stroke="#3a2410" stroke-width="0.5" stroke-opacity="0.6"/>
<line x1="458.40000000000003" y1="180.5" x2="458.40000000000003" y2="185.7" stroke="#1a1a1a" stroke-width="0.8"/>
<line x1="457.00000000000006" y1="180.5" x2="459.8" y2="180.5" stroke="#1a1a1a" stroke-width="0.8"/>
<line x1="457.00000000000006" y1="185.7" x2="459.8" y2="185.7" stroke="#1a1a1a" stroke-width="0.8"/>
<rect x="456.3" y="182.79999999999998" width="4.2" height="0.9" fill="#2a1a0a"/>
<rect x="462.85" y="208.95" width="3.7" height="26.25" fill="#c0782a" stroke="#3a2410" stroke-width="0.5" stroke-opacity="0.6"/>
<line x1="464.70000000000005" y1="207.2" x2="464.70000000000005" y2="210.2" stroke="#1a1a1a" stroke-width="0.8"/>
<line x1="463.30000000000007" y1="207.2" x2="466.1" y2="207.2" stroke="#1a1a1a" stroke-width="0.8"/>
<line x1="463.30000000000007" y1="210.2" x2="466.1" y2="210.2" stroke="#1a1a1a" stroke-width="0.8"/>
<rect x="462.6" y="208.39999999999998" width="4.2" height="0.9" fill="#2a1a0a"/>
<rect x="469.5" y="228.45" width="3.7" height="6.75" fill="#5a3816" stroke="#3a2410" stroke-width="0.5" stroke-opacity="0.6"/>
<line x1="471.35" y1="226.2" x2="471.35" y2="230.2" stroke="#1a1a1a" stroke-width="0.8"/>
<line x1="469.95000000000005" y1="226.2" x2="472.75" y2="226.2" stroke="#1a1a1a" stroke-width="0.8"/>
<line x1="469.95000000000005" y1="230.2" x2="472.75" y2="230.2" stroke="#1a1a1a" stroke-width="0.8"/>
<rect x="469.25" y="227.89999999999998" width="4.2" height="0.9" fill="#2a1a0a"/>
<rect x="475.85" y="229.05" width="3.7" height="6.149999999999977" fill="#c0782a" stroke="#3a2410" stroke-width="0.5" stroke-opacity="0.6"/>
<line x1="477.70000000000005" y1="227.8" x2="477.70000000000005" y2="229.8" stroke="#1a1a1a" stroke-width="0.8"/>
<line x1="476.30000000000007" y1="227.8" x2="479.1" y2="227.8" stroke="#1a1a1a" stroke-width="0.8"/>
<line x1="476.30000000000007" y1="229.8" x2="479.1" y2="229.8" stroke="#1a1a1a" stroke-width="0.8"/>
<rect x="475.6" y="228.5" width="4.2" height="0.9" fill="#2a1a0a"/>
<line x1="467.90000000000003" y1="235.2" x2="467.90000000000003" y2="237.79999999999998" stroke="#111" stroke-width="1"/>
<text x="467.90000000000003" y="247.4" font-size="7.3" text-anchor="middle" font-weight="normal" fill="#222" stroke="#222" stroke-width="0.1" textLength="9.8" lengthAdjust="spacingAndGlyphs" >D6</text>
<rect x="486.15" y="168.85" width="3.7" height="66.35" fill="#5a3816" stroke="#3a2410" stroke-width="0.5" stroke-opacity="0.6"/>
<line x1="488.0" y1="167.0" x2="488.0" y2="170.2" stroke="#1a1a1a" stroke-width="0.8"/>
<line x1="486.6" y1="167.0" x2="489.4" y2="167.0" stroke="#1a1a1a" stroke-width="0.8"/>
<line x1="486.6" y1="170.2" x2="489.4" y2="170.2" stroke="#1a1a1a" stroke-width="0.8"/>
<rect x="485.9" y="168.29999999999998" width="4.2" height="0.9" fill="#2a1a0a"/>
<rect x="492.45" y="193.35" width="3.7" height="41.849999999999994" fill="#c0782a" stroke="#3a2410" stroke-width="0.5" stroke-opacity="0.6"/>
<line x1="494.3" y1="191.7" x2="494.3" y2="194.5" stroke="#1a1a1a" stroke-width="0.8"/>
<line x1="492.90000000000003" y1="191.7" x2="495.7" y2="191.7" stroke="#1a1a1a" stroke-width="0.8"/>
<line x1="492.90000000000003" y1="194.5" x2="495.7" y2="194.5" stroke="#1a1a1a" stroke-width="0.8"/>
<rect x="492.2" y="192.79999999999998" width="4.2" height="0.9" fill="#2a1a0a"/>
<rect x="499.09999999999997" y="224.05" width="3.7" height="11.149999999999977" fill="#5a3816" stroke="#3a2410" stroke-width="0.5" stroke-opacity="0.6"/>
<line x1="500.95" y1="222.8" x2="500.95" y2="224.8" stroke="#1a1a1a" stroke-width="0.8"/>
<line x1="499.55" y1="222.8" x2="502.34999999999997" y2="222.8" stroke="#1a1a1a" stroke-width="0.8"/>
<line x1="499.55" y1="224.8" x2="502.34999999999997" y2="224.8" stroke="#1a1a1a" stroke-width="0.8"/>
<rect x="498.84999999999997" y="223.5" width="4.2" height="0.9" fill="#2a1a0a"/>
<rect x="505.45" y="228.35" width="3.7" height="6.849999999999994" fill="#c0782a" stroke="#3a2410" stroke-width="0.5" stroke-opacity="0.6"/>
<line x1="507.3" y1="226.5" x2="507.3" y2="229.7" stroke="#1a1a1a" stroke-width="0.8"/>
<line x1="505.90000000000003" y1="226.5" x2="508.7" y2="226.5" stroke="#1a1a1a" stroke-width="0.8"/>
<line x1="505.90000000000003" y1="229.7" x2="508.7" y2="229.7" stroke="#1a1a1a" stroke-width="0.8"/>
<rect x="505.2" y="227.79999999999998" width="4.2" height="0.9" fill="#2a1a0a"/>
<line x1="497.5" y1="235.2" x2="497.5" y2="237.79999999999998" stroke="#111" stroke-width="1"/>
<text x="497.5" y="247.4" font-size="7.3" text-anchor="middle" font-weight="normal" fill="#222" stroke="#222" stroke-width="0.1" textLength="9.8" lengthAdjust="spacingAndGlyphs" >D8</text>
<rect x="400.8" y="153.3" width="10.1" height="5.8" fill="#5a3816" />
<rect x="400.8" y="164.5" width="10.1" height="5.8" fill="#c0782a" />
<text x="413.8" y="158.9" font-size="7.6" text-anchor="start" font-weight="normal" fill="#222" stroke="#222" stroke-width="0.1" textLength="26.3" lengthAdjust="spacingAndGlyphs" >JURKAT</text>
<text x="413.8" y="170.2" font-size="7.6" text-anchor="start" font-weight="normal" fill="#222" stroke="#222" stroke-width="0.1" textLength="17.8" lengthAdjust="spacingAndGlyphs" >RPMI</text>
<line x1="429.2" y1="218.8" x2="441.7" y2="218.8" stroke="#666" stroke-width="1.2"/>
<text x="435.45" y="218.5" font-size="6.5" text-anchor="middle" font-weight="normal" fill="#222" stroke="#222" stroke-width="0.1" >**</text>
<line x1="435.0" y1="223.1" x2="448.8" y2="223.1" stroke="#666" stroke-width="1.2"/>
<text x="441.9" y="225.4" font-size="6.5" text-anchor="middle" font-weight="normal" fill="#222" stroke="#222" stroke-width="0.1" >*</text>
<line x1="458.0" y1="177.9" x2="471.8" y2="177.9" stroke="#666" stroke-width="1.2"/>
<text x="464.9" y="177.6" font-size="6.5" text-anchor="middle" font-weight="normal" fill="#222" stroke="#222" stroke-width="0.1" >***</text>
<line x1="465.2" y1="205.0" x2="478.1" y2="205.0" stroke="#666" stroke-width="1.2"/>
<text x="471.65" y="204.7" font-size="6.5" text-anchor="middle" font-weight="normal" fill="#222" stroke="#222" stroke-width="0.1" >***</text>
<line x1="487.3" y1="165.0" x2="501.6" y2="165.0" stroke="#666" stroke-width="1.2"/>
<text x="494.45000000000005" y="164.7" font-size="6.5" text-anchor="middle" font-weight="normal" fill="#222" stroke="#222" stroke-width="0.1" >***</text>
<line x1="494.5" y1="190.0" x2="508.2" y2="190.0" stroke="#666" stroke-width="1.2"/>
<text x="501.35" y="189.7" font-size="6.5" text-anchor="middle" font-weight="normal" fill="#222" stroke="#222" stroke-width="0.1" >***</text>
<g transform="translate(367.6,193.9) rotate(-90)"><text x="0" y="0" font-size="8.1" text-anchor="middle" fill="#222" stroke="#222" stroke-width="0.1" textLength="81.3" lengthAdjust="spacingAndGlyphs">Relative % Ann-IP to control</text></g>
<text x="353.9" y="259.4" font-size="7.3" text-anchor="start" font-weight="normal" fill="#222" stroke="#222" stroke-width="0.1" textLength="33.7" lengthAdjust="spacingAndGlyphs" >AK2A+B+</text>
<text x="359.9" y="270.0" font-size="7.3" text-anchor="start" font-weight="normal" fill="#222" stroke="#222" stroke-width="0.1" textLength="21.6" lengthAdjust="spacingAndGlyphs" >shAK2</text>
<path d="M400.90,257.10H402.50" stroke="#555" stroke-width="1.1" fill="none"/>
<path d="M412.20,257.10H416.60M414.40,254.90V259.30" stroke="#303030" stroke-width="1.0" fill="none"/>
<path d="M399.50,268.20H403.90M401.70,266.00V270.40" stroke="#303030" stroke-width="1.0" fill="none"/>
<path d="M412.20,268.20H416.60M414.40,266.00V270.40" stroke="#303030" stroke-width="1.0" fill="none"/>
<path d="M430.60,257.10H432.20" stroke="#555" stroke-width="1.1" fill="none"/>
<path d="M441.90,257.10H446.30M444.10,254.90V259.30" stroke="#303030" stroke-width="1.0" fill="none"/>
<path d="M429.20,268.20H433.60M431.40,266.00V270.40" stroke="#303030" stroke-width="1.0" fill="none"/>
<path d="M441.90,268.20H446.30M444.10,266.00V270.40" stroke="#303030" stroke-width="1.0" fill="none"/>
<path d="M460.30,257.10H461.90" stroke="#555" stroke-width="1.1" fill="none"/>
<path d="M471.60,257.10H476.00M473.80,254.90V259.30" stroke="#303030" stroke-width="1.0" fill="none"/>
<path d="M458.90,268.20H463.30M461.10,266.00V270.40" stroke="#303030" stroke-width="1.0" fill="none"/>
<path d="M471.60,268.20H476.00M473.80,266.00V270.40" stroke="#303030" stroke-width="1.0" fill="none"/>
<path d="M489.90,257.10H491.50" stroke="#555" stroke-width="1.1" fill="none"/>
<path d="M501.20,257.10H505.60M503.40,254.90V259.30" stroke="#303030" stroke-width="1.0" fill="none"/>
<path d="M488.50,268.20H492.90M490.70,266.00V270.40" stroke="#303030" stroke-width="1.0" fill="none"/>
<path d="M501.20,268.20H505.60M503.40,266.00V270.40" stroke="#303030" stroke-width="1.0" fill="none"/>
</svg>
</body></html>
